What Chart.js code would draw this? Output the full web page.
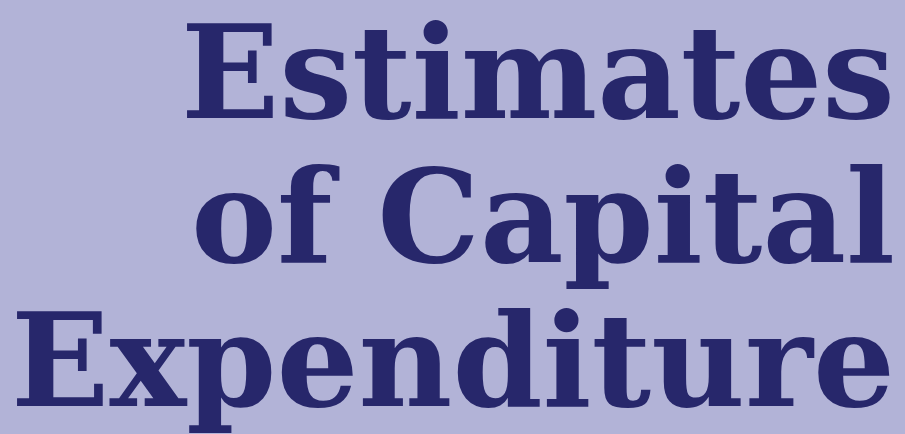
<!DOCTYPE html>
<html>
<head>
<meta charset="utf-8">
<script src="https://cdn.jsdelivr.net/npm/chart.js@4.4.1/dist/chart.umd.min.js"></script>
<style>
  html, body { margin: 0; padding: 0; background: #b2b3d7; }
  #wrap { width: 905px; height: 434px; }
</style>
</head>
<body>
<div id="wrap"><canvas id="coverChart"></canvas></div>
<script>
// cover title, one entry per printed line
const titleLines = ['Estimates', 'of Capital', 'Expenditure'];
// no plotted series on this page
const categories = [];
const values = [];

function renderChart() {
    const ctx = document.getElementById('coverChart').getContext('2d');

    new Chart(ctx, {
        type: 'bar',
        data: {
            labels: categories,
            datasets: [{
                data: values,
                backgroundColor: '#27276b'
            }]
        },
        options: {
            responsive: true,
            maintainAspectRatio: false,
            animation: false,
            layout: {
                padding: { top: 13, right: 10, left: 0, bottom: 0 }
            },
            plugins: {
                legend: { display: false },
                tooltip: { enabled: false },
                title: {
                    display: true,
                    text: titleLines,
                    align: 'end',
                    color: '#27276b',
                    padding: 0,
                    font: {
                        family: '"DejaVu Serif", serif',
                        weight: 'bold',
                        size: 129,
                        lineHeight: 1.116
                    }
                }
            },
            scales: {
                x: { display: false },
                y: { display: false }
            }
        }
    });
}

document.addEventListener('DOMContentLoaded', renderChart);
</script>
</body>
</html>
